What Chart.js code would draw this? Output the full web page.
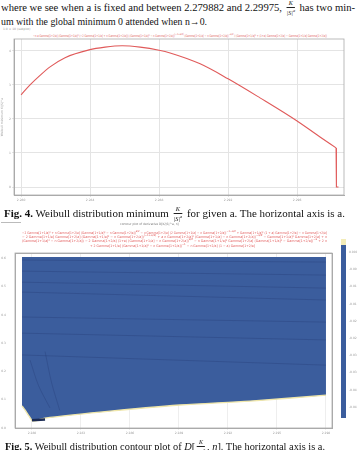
<!DOCTYPE html>
<html>
<head>
<meta charset="utf-8">
<script src="https://cdn.jsdelivr.net/npm/chart.js@4.4.0/dist/chart.umd.min.js"></script>
<style>
  html, body { margin: 0; padding: 0; background: #fff; }
  body { width: 357px; height: 450px; overflow: hidden; position: relative;
         font-family: "Liberation Serif", "Times New Roman", serif; color: #111; }
  .abs { position: absolute; white-space: nowrap; transform-origin: 0 0; }
  .txt { font-size: 11.4px; }
  .frac { display: inline-block; vertical-align: middle; text-align: center;
          font-size: 6.5px; line-height: 6.5px; font-style: italic; margin: 0 2px; }
  .frac span { display: block; }
  .frac .num { border-bottom: 0.6px solid #222; padding: 0 1px; }
  .red { color: #e05555; font-family: "DejaVu Sans", sans-serif; font-size: 3.4px; }
  .tiny { color: #999; font-family: "DejaVu Sans", sans-serif; font-size: 3px; }
  .cb { color: #999; font-family: "DejaVu Sans", sans-serif; font-size: 3px; left: 349px; }
  canvas { position: absolute; left: 0; }
</style>
</head>
<body>
<div class="abs txt" data-w="354" style="left:1px; top:0px;">where we see when a is fixed and between 2.279882 and 2.29975, <span class="frac"><span class="num">K</span><span>|S|<sup style="font-size:4.5px">a</sup></span></span> has two min-</div>
<div class="abs txt" data-w="206" style="left:1px; top:15px;">um with the global minimum 0 attended when n&#8594;0.</div>

<div class="abs tiny" style="left:3px; top:27px;">1.0 &#215; 10 (subplot)</div>
<div class="abs red" data-w="294" style="left:33px; top:32px;">&#8722;n a Gamma[1+2/a] (Gamma[1+1/a]&#178; (&#8722;2 Gamma[1+1/a] + n Gamma[1+2/a])) (Gamma[1+1/a]&#178; &#8722; n Gamma[1+2/a])<sup>(&#8722;1+a/2)</sup> (Gamma[1+1/a] &#8722; n Gamma[1+2/a])<sup>&#8722;a/2</sup> / (Gamma[1+1/a]&#178; + (1+a) Gamma[1+2/a] &#8722; Gamma[1+1/a] Gamma[1+2/a])</div>

<canvas id="fig4" width="357" height="180" style="top:26px;"></canvas>

<div class="abs txt" data-w="341" style="top:206px; left:4px;"><b>Fig. 4.</b> Weibull distribution minimum <span class="frac"><span class="num">K</span><span>|S|<sup style="font-size:4.5px">a</sup></span></span> for given a. The horizontal axis is a.</div>

<div class="abs" style="left:1px; top:222px; width:20px; border-top:0.6px solid #bbb;"></div>
<div class="abs" style="left:120px; top:222px; color:#777; font-family:'DejaVu Sans'; font-size:3px;">contour plot of derivative D[K/|S|^a, n]</div>
<div class="abs red" data-w="305" style="left:22px; top:229px;">&#8722;2 Gamma[1+1/a]&#178; + n Gamma[1+2/a] (Gamma[1+1/a]&#178; &#8722; n Gamma[1+2/a])<sup>a/2</sup> &#8722; n Gamma[1+2/a] (2 Gamma[1+1/a] &#8722; n Gamma[1+2/a])<sup>&#8722;1&#8722;a/2</sup> + Gamma[1+1/a]&#178; (1 + a) Gamma[1+2/a] &#8722; n Gamma[1+2/a]</div>
<div class="abs red" data-w="305" style="left:22px; top:233px;">&#8722; 2 Gamma[1+1/a] Gamma[1+2/a] (Gamma[1+1/a]&#178; &#8722; n Gamma[1+2/a])<sup>(&#8722;1+a/2)</sup> + a n Gamma[1+2/a]&#178; (Gamma[1+1/a] &#8722; n Gamma[1+2/a])<sup>&#8722;a/2</sup> &#8722; Gamma[1+1/a]&#178; Gamma[1+2/a] + n</div>
<div class="abs red" data-w="305" style="left:22px; top:237px;">(Gamma[1+1/a]&#178; &#8722; n Gamma[1+2/a]) &#8722; 2 Gamma[1+2/a] (1+a) (Gamma[1+1/a] &#8722; n Gamma[1+2/a])<sup>a/2</sup> &#8722; n Gamma[1+1/a]&#178; Gamma[1+2/a] (Gamma[1+1/a]&#178; &#8722; Gamma[1+2/a])<sup>&#8722;a</sup> + 2 n</div>
<div class="abs red" data-w="165" style="left:90px; top:242px;">+ 2 Gamma[1+1/a] (Gamma[1+1/a]&#178; &#8722; n Gamma[1+2/a])<sup>&#8722;1</sup> &#8722; n Gamma[1+2/a] (1 &#8722; a) Gamma[1+2/a]</div>

<canvas id="fig5" width="357" height="194" style="top:246px;"></canvas>
<div class="abs" style="left:341px; top:239px; width:5px; height:179px; background:linear-gradient(#f3ecb8 0, #f3ecb8 6px, #3b5d9d 6px, #3b5d9d 100%);"></div>
<div id="cbLabels"></div>

<div class="abs txt" data-w="320" style="top:439px; left:5px;"><b>Fig. 5.</b> Weibull distribution contour plot of <i>D</i>[<span class="frac"><span class="num">K</span><span>|S|<sup style="font-size:4.5px">a</sup></span></span>, <i>n</i>]. The horizontal axis is a.</div>

<script>
// Fig. 4 : minimum of K/|S|^a against a
const aFig4 = [2.2800, 2.28052, 2.28110, 2.28168, 2.28255, 2.28394, 2.28487, 2.28586, 2.28690,
               2.28800, 2.28864, 2.29038, 2.29200, 2.29385, 2.29600, 2.29733, 2.29826];
const minFig4 = [2.71, 3.00, 3.28, 3.53, 3.80, 4.03, 4.11, 4.15, 4.11,
                 4.02, 3.94, 3.62, 3.18, 2.62, 1.94, 1.47, 1.15];
// the sharp drop to the global minimum 0 at the right end
const aDrop4 = [2.29826, 2.29828, 2.29840];
const minDrop4 = [1.15, 0, 0];
const xTicks4 = [2.280, 2.284, 2.288, 2.292, 2.296];
const yTicks4 = [0, 1, 2, 3, 4];

// Fig. 5 : contour plot, lower edge of the region and a few contour lines
const aEdge5 = [2.27939, 2.27957, 2.27982, 2.28006, 2.28080, 2.28416, 2.28906, 2.29335, 2.29800];
const nEdge5 = [0.78, 0.64, 0.42, 0.25, 0.35, 0.56, 0.81, 0.95, 1.16];
const nTop5 = 6.04;
const contours5 = [
  [[2.27939, 5.93], [2.29800, 5.86]],
  [[2.27939, 5.54], [2.29800, 5.40]],
  [[2.27939, 5.15], [2.29800, 4.94]],
  [[2.27939, 4.80], [2.29800, 4.52]],
  [[2.27939, 3.92], [2.29800, 3.74]],
  [[2.27939, 3.35], [2.29800, 3.11]],
  [[2.27939, 2.58], [2.29800, 2.22]],
  [[2.27988, 2.40], [2.28040, 1.50], [2.28110, 0.71]],
  [[2.28080, 2.70], [2.28120, 1.60], [2.28170, 0.62]]
];
const blob5 = [[2.28000, 0.27], [2.28080, 0.30]];
const xTicks5 = [2.280, 2.283, 2.286, 2.289, 2.292, 2.295, 2.298];
const yTicks5 = [0, 1, 2, 3, 4, 5, 6];
const cbTicks = ['0.000', '-0.005', '-0.010', '-0.015', '-0.020', '-0.025', '-0.030', '-0.035', '-0.040', '-0.045'];

const tickFont = { size: 3, family: 'DejaVu Sans' };
const gridCol = '#e4e4e4';

const framePlugin = {
  id: 'frame',
  afterDraw(chart) {
    const a = chart.chartArea, ctx = chart.ctx;
    ctx.save();
    ctx.strokeStyle = '#aaa';
    ctx.lineWidth = 0.8;
    ctx.strokeRect(a.left, a.top, a.right - a.left, a.bottom - a.top);
    ctx.restore();
  }
};

const setTicks = arr => scale => { scale.ticks = arr.map(v => ({ value: v })); };
const pts = (xs, ys) => xs.map((x, i) => ({ x: x, y: ys[i] }));

new Chart(document.getElementById('fig4'), {
  type: 'line',
  data: {
    datasets: [{
      data: pts(aFig4, minFig4),
      borderColor: '#e05a5a',
      borderWidth: 1.1,
      pointRadius: 0,
      cubicInterpolationMode: 'monotone'
    }, {
      data: pts(aDrop4, minDrop4),
      borderColor: '#e05a5a',
      borderWidth: 1.1,
      pointRadius: 0,
      tension: 0
    }]
  },
  options: {
    responsive: false,
    animation: false,
    layout: { padding: { left: 0, right: 13, top: 13, bottom: 2 } },
    plugins: { legend: { display: false }, tooltip: { enabled: false } },
    scales: {
      x: {
        type: 'linear', min: 2.27959, max: 2.29872,
        afterBuildTicks: setTicks(xTicks4),
        afterFit: s => { s.height = 9; },
        ticks: { font: tickFont, color: '#999', padding: 1, maxRotation: 0, callback: v => v.toFixed(3) },
        grid: { color: gridCol, tickLength: 2 },
        border: { color: '#aaa' }
      },
      y: {
        min: -0.235, max: 4.35,
        afterBuildTicks: setTicks(yTicks4),
        afterFit: s => { s.width = 14; },
        ticks: { font: tickFont, color: '#999', padding: 1 },
        grid: { color: gridCol, tickLength: 2 },
        border: { color: '#aaa' },
        title: { display: true, text: 'Weibull minimum K/|S|^a', font: tickFont, color: '#999', padding: 0 }
      }
    }
  },
  plugins: [framePlugin]
});

// contour lines sit on top of the filled region (lower order = drawn later)
const contourSets = contours5.map(c => ({
  data: c.map(p => ({ x: p[0], y: p[1] })),
  borderColor: 'rgba(30, 50, 105, 0.45)',
  borderWidth: 0.6,
  pointRadius: 0,
  tension: 0.3,
  fill: false,
  order: 0
}));

new Chart(document.getElementById('fig5'), {
  type: 'line',
  data: {
    datasets: [{
      data: pts(aEdge5, nEdge5),
      borderColor: '#efe6aa',
      borderWidth: 1.4,
      backgroundColor: '#3b5d9d',
      pointRadius: 0,
      tension: 0.3,
      fill: { value: nTop5 },
      order: 5
    }, ...contourSets, {
      data: blob5.map(p => ({ x: p[0], y: p[1] })),
      borderColor: '#1c2c55',
      borderWidth: 2.5,
      pointRadius: 0,
      fill: false,
      order: 0
    }]
  },
  options: {
    responsive: false,
    animation: false,
    layout: { padding: { left: 0, right: 17, top: 0, bottom: 4 } },
    plugins: { legend: { display: false }, tooltip: { enabled: false } },
    scales: {
      x: {
        type: 'linear', min: 2.27896, max: 2.29837,
        afterBuildTicks: setTicks(xTicks5),
        afterFit: s => { s.height = 8; },
        ticks: { font: tickFont, color: '#999', padding: 1, maxRotation: 0, callback: v => v.toFixed(3) },
        grid: { color: '#eeeeee', tickLength: 2 },
        border: { color: '#aaa' }
      },
      x2: {
        type: 'linear', position: 'top', min: 2.27896, max: 2.29837,
        afterBuildTicks: setTicks(xTicks5),
        afterFit: s => { s.height = 7; },
        ticks: { font: tickFont, color: '#999', padding: 1, maxRotation: 0, callback: v => v.toFixed(3) },
        grid: { display: false },
        border: { color: '#aaa' }
      },
      y: {
        min: 0, max: 6.18,
        afterBuildTicks: setTicks(yTicks5),
        afterFit: s => { s.width = 15; },
        ticks: { font: tickFont, color: '#999', padding: 1, callback: v => (v / 10).toFixed(1) },
        grid: { display: false },
        border: { color: '#aaa' }
      },
      y2: {
        position: 'right', min: 0, max: 6.18,
        afterBuildTicks: setTicks(yTicks5),
        afterFit: s => { s.width = 8; },
        ticks: { font: tickFont, color: '#999', padding: 1, callback: v => (v / 10).toFixed(1) },
        grid: { display: false },
        border: { color: '#aaa' }
      }
    }
  },
  plugins: [framePlugin]
});

// colour bar labels
const cb = document.getElementById('cbLabels');
cbTicks.forEach((t, i) => {
  const d = document.createElement('div');
  d.className = 'abs cb';
  d.style.top = (250 + i * 17.2) + 'px';
  d.textContent = t;
  cb.appendChild(d);
});

// squeeze each text line to the width it has in the scan
document.querySelectorAll('[data-w]').forEach(el => {
  const w = el.getBoundingClientRect().width;
  el.style.transform = 'scaleX(' + (parseFloat(el.dataset.w) / w) + ')';
});
</script>
</body>
</html>
